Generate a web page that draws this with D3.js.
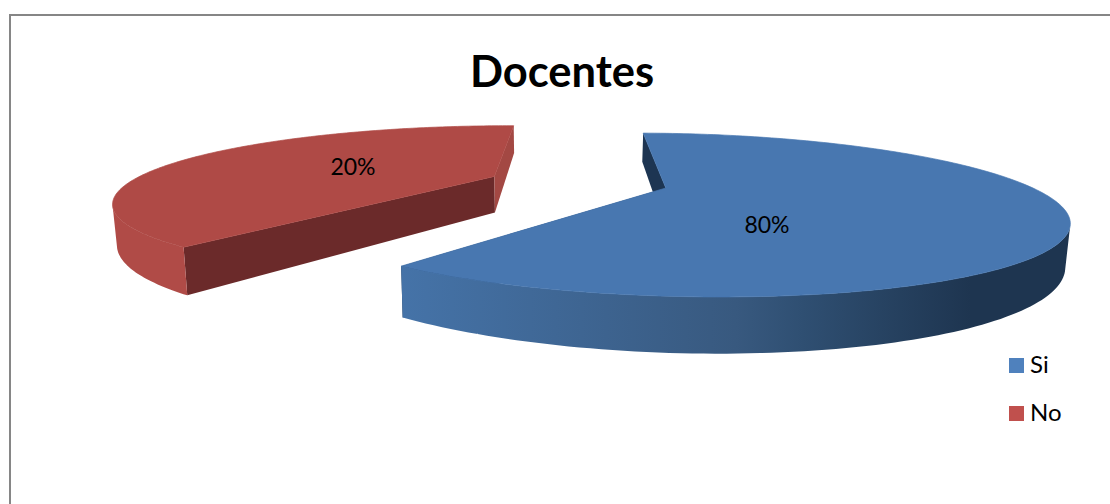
<!DOCTYPE html>
<html>
<head>
<meta charset="utf-8">
<script src="https://d3js.org/d3.v7.min.js"></script>
<style>
  body { margin: 0; background: #fff; }
  text { font-family: Lato, "Open Sans", sans-serif; fill: #000; }
</style>
</head>
<body>
<svg id="chart" width="1110" height="504"></svg>
<script>
var title = "Docentes";
var categories = ["Si", "No"];
var valueLabels = ["80%", "20%"];
// the drawn wedges do not agree with the printed labels, they measure about 60/40
var drawnShares = [60.2, 39.8];
var explode = [0, 0.505];
var radii = [1, 1.02];

var topColors = ["#4877b0", "#af4a46"];
var legendColors = ["#4f81bd", "#c0504d"];
var startFaceColors = ["#1d3552", "#6b2a2a"];
var endFaceColors = ["#1d3552", "#a34843"];
var labelPositions = [[767, 233], [353, 175]];

var svg = d3.select("#chart");

// the frame only has a left and a top side
svg.append("path")
  .attr("d", "M10,504V15H1110")
  .attr("fill", "none")
  .attr("stroke", "#868686")
  .attr("stroke-width", 2);

// perspective of the pie plane
var vx = 555, y0 = 188, A = 367, B = 73, k = 0.33, xa = 0.302, H = 38, m = 0.01;

function project(X, Y, bottom) {
  var w = 1 + k * Y;
  return [
    vx + A * (xa + X) / w / (bottom ? 1 + m : 1),
    y0 - B * Y / w + (bottom ? H / w : 0)
  ];
}

var rad = function(d) { return d * Math.PI / 180; };
var pie = d3.pie().sort(null).startAngle(rad(1)).endAngle(rad(361));
var slices = pie(drawnShares);
var line = d3.line();

// gradients on the outer walls
var defs = svg.append("defs");
var wallStops = [
  [[0, "#4573a8"], [0.5, "#38597f"], [0.6, "#2f4f72"], [0.85, "#1e3550"], [1, "#1e3550"]],
  [[0, "#b04b47"], [1, "#b04b47"]]
];
wallStops.forEach(function(stops, i) {
  var g = defs.append("linearGradient")
    .attr("id", "wall" + i)
    .attr("gradientUnits", "userSpaceOnUse")
    .attr("x1", 401).attr("x2", 1071)
    .attr("y1", 0).attr("y2", 0);
  stops.forEach(function(s) {
    g.append("stop").attr("offset", s[0]).attr("stop-color", s[1]);
  });
});

// red slice goes first, it is the one further back
[1, 0].forEach(function(i) {
  var s = slices[i];
  var mid = (s.startAngle + s.endAngle) / 2;
  var ox = explode[i] * Math.sin(mid), oy = explode[i] * Math.cos(mid);
  var angles = d3.range(0, 181).map(function(t) {
    return s.startAngle + (s.endAngle - s.startAngle) * t / 180;
  });
  var rim = function(a, bottom) {
    return project(ox + radii[i] * Math.sin(a), oy + radii[i] * Math.cos(a), bottom);
  };
  var face = function(a) {
    return [project(ox, oy, false), rim(a, false), rim(a, true), project(ox, oy, true)];
  };
  var g = svg.append("g");

  g.append("path").attr("d", line(face(s.startAngle)) + "Z").attr("fill", startFaceColors[i]);
  g.append("path").attr("d", line(face(s.endAngle)) + "Z").attr("fill", endFaceColors[i]);

  // only the part of the rim that faces the viewer gets a wall
  var wall = "";
  d3.pairs(angles).forEach(function(p) {
    var quad = [rim(p[0], false), rim(p[1], false), rim(p[1], true), rim(p[0], true)];
    if (d3.polygonArea(quad) > 0) wall += line(quad) + "Z";
  });
  g.append("path").attr("d", wall).attr("fill", "url(#wall" + i + ")");

  // thin stroke closes the hairline between wall and top
  var top = [project(ox, oy, false)].concat(angles.map(function(a) { return rim(a, false); }));
  g.append("path")
    .attr("d", line(top) + "Z")
    .attr("fill", topColors[i])
    .attr("stroke", topColors[i])
    .attr("stroke-width", 0.7)
    .attr("stroke-linejoin", "round");
});

// value labels
svg.selectAll(".value")
  .data(valueLabels)
  .enter()
  .append("text")
    .attr("class", "value")
    .attr("x", function(d, i) { return labelPositions[i][0]; })
    .attr("y", function(d, i) { return labelPositions[i][1]; })
    .attr("text-anchor", "middle")
    .style("font-size", "23px")
    .text(function(d) { return d; });

// title
svg.append("text")
  .attr("x", 562)
  .attr("y", 87)
  .attr("text-anchor", "middle")
  .style("font-size", "43.5px")
  .style("font-weight", "bold")
  .text(title);

// legend
var legendY = d3.scalePoint().domain(categories).range([358, 406]);
var legend = svg.selectAll(".legend")
  .data(categories)
  .enter()
  .append("g")
    .attr("class", "legend")
    .attr("transform", function(d) { return "translate(1009," + legendY(d) + ")"; });
legend.append("rect")
  .attr("width", 15)
  .attr("height", 15)
  .attr("fill", function(d, i) { return legendColors[i]; });
legend.append("text")
  .attr("x", 21)
  .attr("y", 15)
  .style("font-size", "24px")
  .text(function(d) { return d; });
</script>
</body>
</html>
